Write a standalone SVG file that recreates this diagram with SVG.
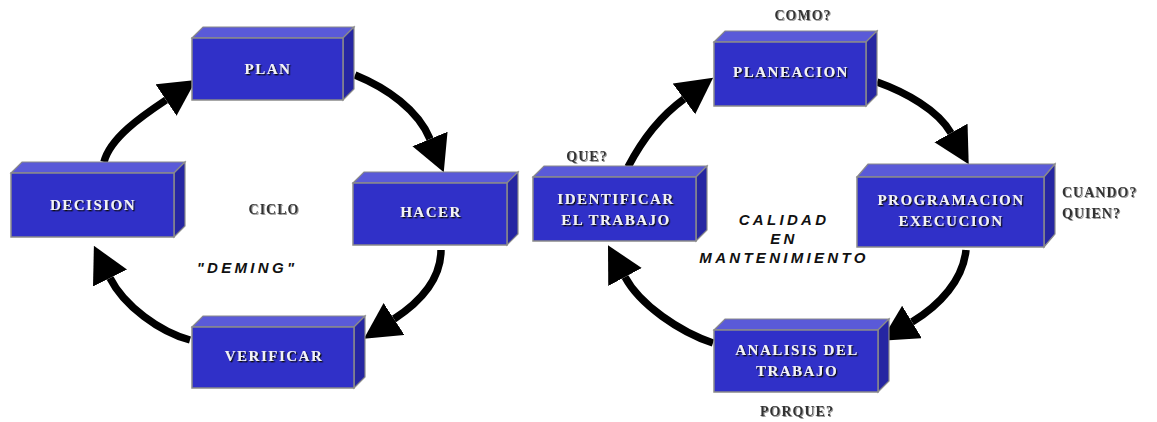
<svg xmlns="http://www.w3.org/2000/svg" width="1157" height="422" viewBox="0 0 1157 422">
  <style>
    .front { fill: #3030c8; stroke: #8a8a8a; stroke-width: 1.5; }
    .top { fill: #5a5ad8; stroke: #8a8a8a; stroke-width: 1.2; }
    .side { fill: #2626a2; stroke: #8a8a8a; stroke-width: 1.2; }
    .lbl { font-family: "Liberation Serif", "Times New Roman", serif; font-weight: bold; font-size: 15px; letter-spacing: 1.5px; fill: #f2f2f6; text-anchor: middle; filter: url(#shadow); }
    .note { font-family: "Liberation Serif", "Times New Roman", serif; font-weight: bold; font-size: 14px; letter-spacing: 1px; fill: #333; filter: url(#shadow2); }
    .title { font-family: "Liberation Sans", Arial, sans-serif; font-weight: bold; font-style: italic; font-size: 15px; letter-spacing: 3.3px; fill: #111; text-anchor: middle; }
    .arc { fill: none; stroke: #000; stroke-width: 7.5; marker-end: url(#head); }
  </style>
  <defs>
    <filter id="shadow" x="-10%" y="-30%" width="120%" height="160%">
      <feDropShadow dx="1.3" dy="1.3" stdDeviation="0.5" flood-color="#111"/>
    </filter>
    <filter id="shadow2" x="-10%" y="-30%" width="120%" height="160%">
      <feDropShadow dx="1" dy="1" stdDeviation="0.6" flood-color="#999"/>
    </filter>
    <marker id="head" markerUnits="userSpaceOnUse" markerWidth="40" markerHeight="40" refX="0" refY="19" orient="auto">
      <path d="M0,0 L36,19 L0,38 Z" fill="#000"/>
    </marker>
  </defs>

  <!-- connectors -->
  <g id="connectors">
    <!-- ciclo Deming -->
    <path class="arc" d="M104,162 C110,138 142,116 166,100"/>
    <path class="arc" d="M355,75 C387,88 418,110 430,139"/>
    <path class="arc" d="M441,250 C441,280 420,302 394,319"/>
    <path class="arc" d="M190,340 C160,332 124,306 110,278"/>
    <!-- calidad en mantenimiento -->
    <path class="arc" d="M628,167 C642,140 662,115 684,99"/>
    <path class="arc" d="M877,82 C905,92 938,110 951,133"/>
    <path class="arc" d="M966,250 C963,280 940,305 912,322"/>
    <path class="arc" d="M713,343 C680,332 640,305 625,277"/>
  </g>

  <!-- ciclo Deming nodes -->
  <g id="plan">
    <polygon class="top" points="192,38 203,27 354,27 343,38"/>
    <polygon class="side" points="343,38 354,27 354,89 343,100"/>
    <rect class="front" x="192" y="38" width="151" height="62"/>
    <text class="lbl" x="268" y="74">PLAN</text>
  </g>
  <g id="decision">
    <polygon class="top" points="11,173 22,162 185,162 174,173"/>
    <polygon class="side" points="174,173 185,162 185,226 174,237"/>
    <rect class="front" x="11" y="173" width="163" height="64"/>
    <text class="lbl" x="93" y="210">DECISION</text>
  </g>
  <g id="hacer">
    <polygon class="top" points="353,183 364,172 518,172 507,183"/>
    <polygon class="side" points="507,183 518,172 518,234 507,245"/>
    <rect class="front" x="353" y="183" width="154" height="62"/>
    <text class="lbl" x="431" y="217">HACER</text>
  </g>
  <g id="verificar">
    <polygon class="top" points="192,327 203,316 365,316 354,327"/>
    <polygon class="side" points="354,327 365,316 365,377 354,388"/>
    <rect class="front" x="192" y="327" width="162" height="61"/>
    <text class="lbl" x="274" y="361">VERIFICAR</text>
  </g>
  <g id="ciclo-label">
    <text class="note" x="274" y="214" text-anchor="middle" fill="#111">CICLO</text>
    <text class="title" x="247" y="273">"DEMING"</text>
  </g>

  <!-- calidad en mantenimiento nodes -->
  <g id="identificar">
    <polygon class="top" points="533,177 544,166 707,166 696,177"/>
    <polygon class="side" points="696,177 707,166 707,230 696,241"/>
    <rect class="front" x="533" y="177" width="163" height="64"/>
    <text class="lbl" x="616" y="204">IDENTIFICAR</text>
    <text class="lbl" x="616" y="225">EL TRABAJO</text>
  </g>
  <g id="planeacion">
    <polygon class="top" points="714,42 725,31 877,31 866,42"/>
    <polygon class="side" points="866,42 877,31 877,95 866,106"/>
    <rect class="front" x="714" y="42" width="152" height="64"/>
    <text class="lbl" x="791" y="77">PLANEACION</text>
  </g>
  <g id="programacion">
    <polygon class="top" points="857,177 868,164 1055,164 1044,177"/>
    <polygon class="side" points="1044,177 1055,164 1055,234 1044,247"/>
    <rect class="front" x="857" y="177" width="187" height="70"/>
    <text class="lbl" x="951" y="205">PROGRAMACION</text>
    <text class="lbl" x="951" y="226">EXECUCION</text>
  </g>
  <g id="analisis">
    <polygon class="top" points="714,330 725,319 889,319 878,330"/>
    <polygon class="side" points="878,330 889,319 889,381 878,392"/>
    <rect class="front" x="714" y="330" width="164" height="62"/>
    <text class="lbl" x="797" y="355">ANALISIS  DEL</text>
    <text class="lbl" x="797" y="376">TRABAJO</text>
  </g>
  <g id="preguntas">
    <text class="note" x="803" y="20" text-anchor="middle">COMO?</text>
    <text class="note" x="587" y="161" text-anchor="middle">QUE?</text>
    <text class="note" x="1062" y="197">CUANDO?</text>
    <text class="note" x="1062" y="218">QUIEN?</text>
    <text class="note" x="797" y="416" text-anchor="middle">PORQUE?</text>
  </g>
  <g id="calidad-label">
    <text class="title" x="784" y="225">CALIDAD</text>
    <text class="title" x="784" y="244">EN</text>
    <text class="title" x="784" y="263">MANTENIMIENTO</text>
  </g>
</svg>
